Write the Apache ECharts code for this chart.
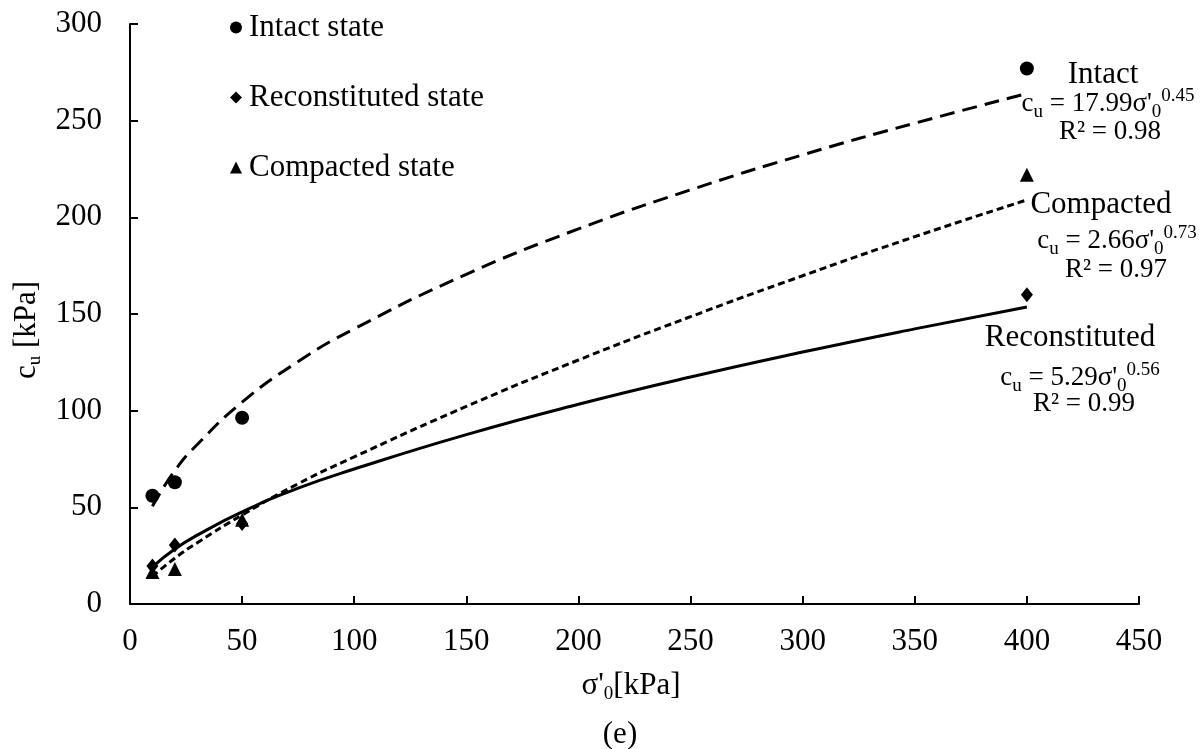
<!DOCTYPE html>
<html>
<head>
<meta charset="utf-8">
<script src="https://cdn.jsdelivr.net/npm/echarts@6/dist/echarts.min.js"></script>
<style>
html,body{margin:0;padding:0;background:#fff;}
#chart{width:1203px;height:749px;}
</style>
</head>
<body>
<div id="chart"></div>
<script>
// ---- data ----
const xTicks = [0, 50, 100, 150, 200, 250, 300, 350, 400, 450];
const yTicks = [0, 50, 100, 150, 200, 250, 300];
const sigma = [10, 20, 50, 400];
const intact = [56, 63, 96.3, 277];
const reconstituted = [19.7, 30.5, 41.6, 160];
const compacted = [16.6, 18.1, 43.6, 222];

// trend lines
const fitSigma = [10, 20, 30, 50, 75, 100, 150, 200, 250, 300, 350, 400];
const intactFit = [50.6, 69, 82.5, 104.4, 125.4, 142.3, 170.5, 194, 214.2, 232.3, 248.7, 264];
const compactedFit = [14.3, 23.7, 31.7, 46, 62.2, 76.1, 102.2, 126.2, 148.6, 169.8, 190, 209];
const reconstitutedFit = [19.2, 28.4, 35.6, 47.6, 59.9, 69.8, 87.6, 103.3, 117.4, 130.3, 142.3, 153.6];

const F = '"Liberation Serif", "Times New Roman", serif';
const pair = (xs, ys) => xs.map((x, i) => [x, ys[i]]);

const rich = {
  n: {fontSize: 31, fontFamily: F, color: '#000'},
  e: {fontSize: 27, fontFamily: F, color: '#000'},
  sub: {fontSize: 19, fontFamily: F, color: '#000', padding: [16, 0, 0, 0]},
  sup: {fontSize: 19, fontFamily: F, color: '#000', padding: [0, 0, 16, 0]}
};
function txt(x, y, text, rot) {
  return {
    type: 'text', x: x, y: y, rotation: rot || 0, z: 100,
    style: {text: text, rich: rich, align: 'center', verticalAlign: 'middle',
            fontFamily: F, fontSize: 31, fill: '#000'}
  };
}

const chart = echarts.init(document.getElementById('chart'), null, {renderer: 'canvas'});
const axisCommon = {
  type: 'value',
  axisLine: {show: true, onZero: false, lineStyle: {color: '#000', width: 2}},
  axisTick: {show: true, inside: true, length: 8, lineStyle: {color: '#000', width: 2}},
  splitLine: {show: false},
  axisLabel: {color: '#000', fontSize: 31, fontFamily: F}
};
chart.setOption({
  backgroundColor: '#fff',
  animation: false,
  grid: {left: 130, right: 64, top: 24, bottom: 145, containLabel: false},
  xAxis: Object.assign({}, axisCommon, {
    min: xTicks[0], max: xTicks[xTicks.length - 1], interval: 50,
    axisLabel: Object.assign({}, axisCommon.axisLabel, {margin: 22})
  }),
  yAxis: Object.assign({}, axisCommon, {
    min: yTicks[0], max: yTicks[yTicks.length - 1], interval: 50,
    axisLabel: Object.assign({}, axisCommon.axisLabel, {margin: 28})
  }),
  legend: {
    orient: 'vertical', left: 225, top: 7,
    itemGap: 39, itemWidth: 12, itemHeight: 12,
    inactiveColor: '#000',
    textStyle: {fontSize: 31, fontFamily: F, color: '#000', lineHeight: 31, padding: [0, 0, 0, 2]},
    itemStyle: {opacity: 1},
    data: [
      {name: 'Intact state', icon: 'circle'},
      {name: 'Reconstituted state', icon: 'diamond'},
      {name: 'Compacted state', icon: 'triangle'}
    ]
  },
  graphic: [
    txt(27, 330, '{n|c}{sub|u}{n| [kPa]}', Math.PI / 2),
    txt(631, 686, "{n|σ'}{sub|0}{n|[kPa]}"),
    txt(620, 735, '{n|(e)}'),
    txt(1103, 75, '{n|Intact}'),
    txt(1108, 104, "{e|c}{sub|u}{e| = 17.99σ'}{sub|0}{sup|0.45}"),
    txt(1110, 132, '{e|R² = 0.98}'),
    txt(1101, 205, '{n|Compacted}'),
    txt(1117, 241, "{e|c}{sub|u}{e| = 2.66σ'}{sub|0}{sup|0.73}"),
    txt(1116, 270, '{e|R² = 0.97}'),
    txt(1070, 338, '{n|Reconstituted}'),
    txt(1080, 378, "{e|c}{sub|u}{e| = 5.29σ'}{sub|0}{sup|0.56}"),
    txt(1084, 404, '{e|R² = 0.99}')
  ],
  series: [
    {name: 'Intact fit', type: 'line', smooth: true, symbol: 'none', z: 2,
     data: pair(fitSigma, intactFit),
     lineStyle: {color: '#000', width: 3, type: [15, 8]}},
    {name: 'Compacted fit', type: 'line', smooth: true, symbol: 'none', z: 2,
     data: pair(fitSigma, compactedFit),
     lineStyle: {color: '#000', width: 3, type: [7, 4]}},
    {name: 'Reconstituted fit', type: 'line', smooth: true, symbol: 'none', z: 2,
     data: pair(fitSigma, reconstitutedFit),
     lineStyle: {color: '#000', width: 3, type: 'solid'}},
    {name: 'Intact state', type: 'scatter', symbol: 'circle', symbolSize: 14, z: 5,
     itemStyle: {color: '#000', opacity: 1}, data: pair(sigma, intact)},
    {name: 'Reconstituted state', type: 'scatter', symbol: 'diamond', symbolSize: [12, 15], z: 5,
     itemStyle: {color: '#000', opacity: 1}, data: pair(sigma, reconstituted)},
    {name: 'Compacted state', type: 'scatter', symbol: 'triangle', symbolSize: 14, z: 5,
     itemStyle: {color: '#000', opacity: 1}, data: pair(sigma, compacted)}
  ]
});
</script>
</body>
</html>
